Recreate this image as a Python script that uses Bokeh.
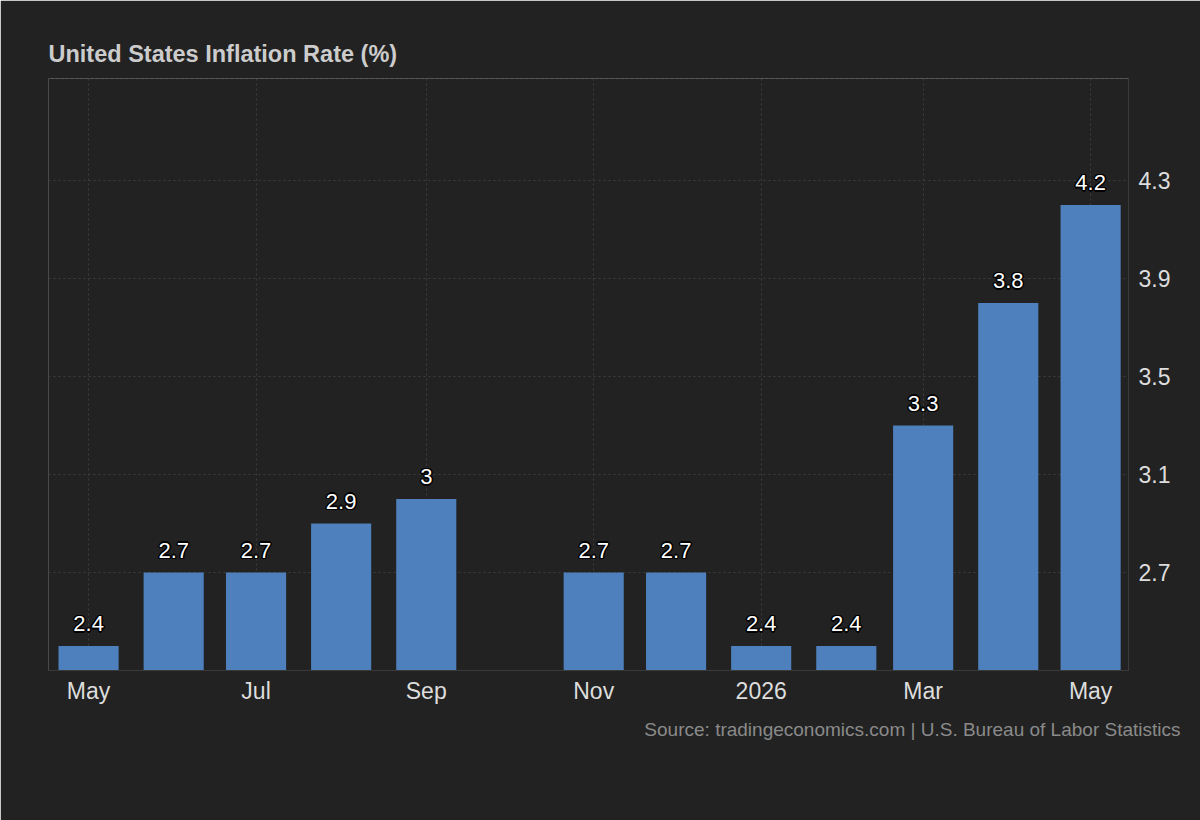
from datetime import datetime, timedelta
from bokeh.plotting import figure
from bokeh.models import (ColumnDataSource, Range1d, FixedTicker, CustomJSTickFormatter,
                          Span, Title)
from bokeh.embed import file_html
from bokeh.resources import INLINE
from bokeh.core.properties import value

# ---- data ----
months = ["2025-05-01", "2025-06-01", "2025-07-01", "2025-08-01", "2025-09-01",
          "2025-11-01", "2025-12-01", "2026-01-01", "2026-02-01", "2026-03-01",
          "2026-04-01", "2026-05-01"]
rates = [2.4, 2.7, 2.7, 2.9, 3.0, 2.7, 2.7, 2.4, 2.4, 3.3, 3.8, 4.2]
rate_labels = ["2.4", "2.7", "2.7", "2.9", "3", "2.7", "2.7", "2.4", "2.4", "3.3", "3.8", "4.2"]

x_tick_dates = ["2025-05-01", "2025-07-01", "2025-09-01", "2025-11-01",
                "2026-01-01", "2026-03-01", "2026-05-01"]
x_tick_labels = ["May", "Jul", "Sep", "Nov", "2026", "Mar", "May"]
y_ticks = [2.7, 3.1, 3.5, 3.9, 4.3]

title_text = "United States Inflation Rate (%)"
source_text = "Source: tradingeconomics.com | U.S. Bureau of Labor Statistics"

# ---- styling ----
BG = "#222222"
BAR = "#4d80bc"
GRID = "#3d3d3d"
AXIS = "#3a3a3a"
FONT = "Liberation Sans"

dates = [datetime.strptime(m, "%Y-%m-%d") for m in months]
tick_dt = [datetime.strptime(m, "%Y-%m-%d") for m in x_tick_dates]
epoch = datetime(1970, 1, 1)
tick_ms = [int((d - epoch).total_seconds() * 1000) for d in tick_dt]

src = ColumnDataSource(dict(x=dates, top=rates, lab=rate_labels))

x_start = dates[0] - timedelta(days=14.6)
x_end = dates[-1] + timedelta(days=13.8)
y_lo, y_hi = 2.3, 4.716

p = figure(width=1200, height=820, x_axis_type="datetime",
           x_range=Range1d(x_start, x_end), y_range=Range1d(y_lo, y_hi),
           y_axis_location="right", output_backend="svg", toolbar_location=None,
           min_border_left=48, min_border_right=72, min_border_top=78,
           min_border_bottom=150)
p.background_fill_color = BG
p.border_fill_color = BG
p.outline_line_color = None

bar_w = 21.9 * 24 * 3600 * 1000
p.vbar(x="x", top="top", bottom=y_lo, width=bar_w, source=src,
       fill_color=BAR, line_color=None)

# value labels: black halo then white text
LBL_OFF = -22
for dx, dy in [(-1.5, 0), (1.5, 0), (0, -1.5), (0, 1.5), (-1, -1), (1, -1), (-1, 1), (1, 1)]:
    p.text(x="x", y="top", text="lab", source=src, text_align="center",
           text_baseline="alphabetic", x_offset=dx, y_offset=LBL_OFF + dy, text_color="black",
           text_font=value(FONT), text_font_size="22px")
p.text(x="x", y="top", text="lab", source=src, text_align="center",
       text_baseline="alphabetic", y_offset=LBL_OFF, text_color="white",
       text_font=value(FONT), text_font_size="22px")

# axes
xa = p.xaxis[0]
xa.ticker = FixedTicker(ticks=tick_ms)
xa.formatter = CustomJSTickFormatter(args=dict(tk=tick_ms, lb=x_tick_labels),
    code="const i = tk.indexOf(tick); return i >= 0 ? lb[i] : '';")
xa.axis_line_color = AXIS
xa.major_tick_line_color = None
xa.minor_tick_line_color = None
xa.major_tick_out = 0
xa.major_tick_in = 0
xa.major_label_text_color = "#dddddd"
xa.major_label_text_font = FONT
xa.major_label_text_font_size = "23px"
xa.major_label_standoff = 7

ya = p.yaxis[0]
ya.ticker = FixedTicker(ticks=y_ticks)
ya.axis_line_color = AXIS
ya.major_tick_line_color = None
ya.minor_tick_line_color = None
ya.major_tick_out = 0
ya.major_tick_in = 0
ya.major_label_text_color = "#dddddd"
ya.major_label_text_font = FONT
ya.major_label_text_font_size = "23px"
ya.major_label_standoff = 10

p.xgrid.ticker = FixedTicker(ticks=tick_ms)
p.xgrid.grid_line_color = GRID
p.xgrid.grid_line_dash = "2 3"
p.ygrid.ticker = FixedTicker(ticks=y_ticks)
p.ygrid.grid_line_color = GRID
p.ygrid.grid_line_dash = "2 3"

p.add_layout(Span(location=x_start, dimension="height", line_color=AXIS, line_width=1))
p.add_layout(Span(location=y_hi, dimension="width", line_color=GRID, line_dash="2 3", line_width=1))

# title and source
p.title.text = title_text
p.title.align = "left"
p.title.offset = 0
p.title.standoff = 23
p.title.text_font = FONT
p.title.text_font_style = "bold"
p.title.text_font_size = "23.5px"
p.title.text_color = "#cccccc"

p.add_layout(Title(text=source_text, align="right", offset=-52, standoff=21,
                   text_font=FONT, text_font_style="normal", text_font_size="19px",
                   text_color="#8a8a8a"), "below")

open("out.html", "w").write(file_html(p, INLINE))
